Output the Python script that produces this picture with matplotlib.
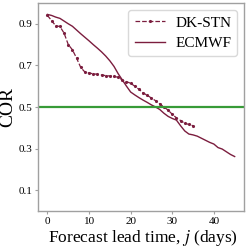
import matplotlib
matplotlib.use("Agg")
import matplotlib.pyplot as plt

plt.rcParams['font.family'] = 'serif'
plt.rcParams['font.serif'] = ['Liberation Serif', 'DejaVu Serif']
plt.rcParams['mathtext.fontset'] = 'stix'

# lead time (days) and correlation values
dk_days = list(range(0, 36))
dk_cor = [0.940, 0.915, 0.890, 0.887, 0.855, 0.800, 0.775, 0.735, 0.690, 0.668,
          0.663, 0.660, 0.657, 0.654, 0.651, 0.649, 0.647, 0.643, 0.630, 0.622,
          0.614, 0.600, 0.585, 0.568, 0.556, 0.543, 0.530, 0.515, 0.500, 0.485,
          0.465, 0.448, 0.435, 0.422, 0.416, 0.410]

ec_days = list(range(0, 46))
ec_cor = [0.945, 0.940, 0.932, 0.926, 0.913, 0.900, 0.888, 0.870, 0.852, 0.835,
          0.818, 0.800, 0.783, 0.765, 0.745, 0.722, 0.695, 0.660, 0.630, 0.600,
          0.572, 0.558, 0.545, 0.533, 0.522, 0.510, 0.500, 0.488, 0.470, 0.455,
          0.445, 0.437, 0.410, 0.385, 0.370, 0.366, 0.360, 0.350, 0.340, 0.330,
          0.322, 0.305, 0.298, 0.285, 0.272, 0.262]

threshold = 0.5
yticks = [0.1, 0.3, 0.5, 0.7, 0.9]
xticks = [0, 10, 20, 30, 40]

LINE_COLOR = '#7b1d3e'
GREEN = '#379b37'
SPINE = '#a0a0a0'

fig = plt.figure(figsize=(2.49, 2.48), dpi=100)
ax = fig.add_axes([0.153, 0.149, 0.827, 0.839])

ax.plot(dk_days, dk_cor, color=LINE_COLOR, linestyle='--', linewidth=0.9,
        marker='.', markersize=2.5, label='DK-STN')
ax.plot(ec_days, ec_cor, color=LINE_COLOR, linewidth=1.0, label='ECMWF')
ax.axhline(threshold, color=GREEN, linewidth=1.6)

ax.set_ylim(0, 1)
ax.set_xlim(-2.25, 47.25)
ax.set_xticks(xticks)
ax.set_yticks(yticks)
ax.set_yticklabels([f"{v:.1f}" for v in yticks])
ax.tick_params(labelsize=8, length=2.5, color=SPINE, pad=1.5)
for s in ax.spines.values():
    s.set_color(SPINE)
    s.set_linewidth(1.0)

ax.set_xlabel(r'Forecast lead time, $j$ (days)', fontsize=12.5)
ax.xaxis.set_label_coords(0.51, -0.08)
ax.set_ylabel('COR', fontsize=14)
ax.yaxis.set_label_coords(-0.105, 0.5)

leg = ax.legend(loc='upper right', fontsize=11, handlelength=2.0,
                borderpad=0.4, labelspacing=0.45, handletextpad=0.65,
                borderaxespad=0.45, fancybox=True)
leg.get_frame().set_edgecolor('#d0d0d0')

fig.savefig('out.png', dpi=100)
